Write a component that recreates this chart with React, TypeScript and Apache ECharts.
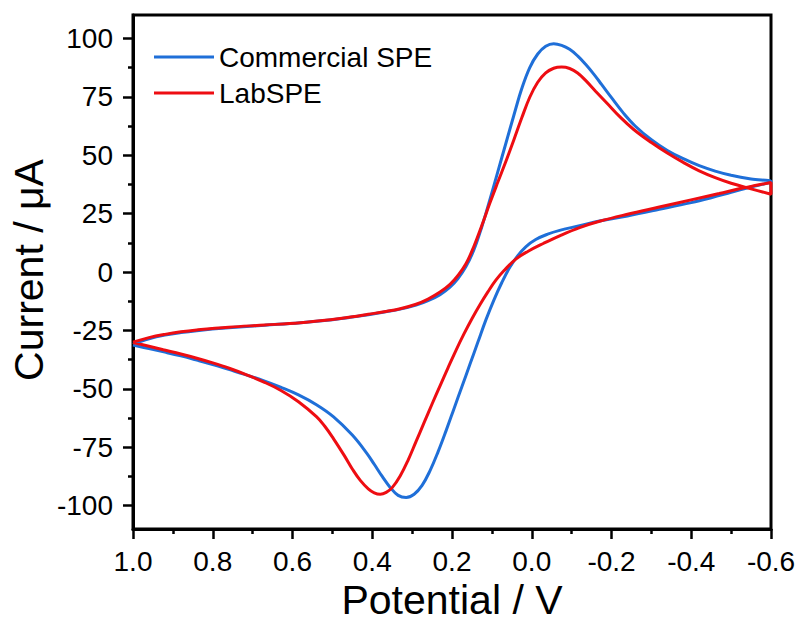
import React, { useEffect, useRef } from "react";
import * as echarts from "echarts";

// Commercial SPE: one full cycle, 1.0 V -> -0.6 V -> 1.0 V
const commercialPotential = [
  1.0, 0.96, 0.92, 0.88, 0.84, 0.76, 0.67, 0.58, 0.5, 0.45, 0.41, 0.37, 0.33, 0.29, 0.26, 0.23,
  0.205, 0.185, 0.165, 0.145, 0.125, 0.105, 0.085, 0.065, 0.045, 0.025, 0.005, -0.015, -0.035,
  -0.055, -0.075, -0.095, -0.115, -0.135, -0.155, -0.175, -0.2, -0.23, -0.26, -0.3, -0.34, -0.38,
  -0.42, -0.46, -0.5, -0.55, -0.6,
  -0.55, -0.5, -0.45, -0.4, -0.32, -0.24, -0.17, -0.12, -0.07, -0.04, -0.01, 0.015, 0.035, 0.055,
  0.075, 0.095, 0.115, 0.135, 0.155, 0.175, 0.195, 0.215, 0.235, 0.255, 0.275, 0.295, 0.315, 0.335,
  0.355, 0.375, 0.395, 0.414, 0.45, 0.497, 0.54, 0.585, 0.63, 0.673, 0.72, 0.76, 0.8, 0.84, 0.88,
  0.92, 0.96, 1.0,
];
const commercialCurrent = [
  -30.9, -28.6, -27.0, -25.9, -25.1, -23.9, -22.8, -21.7, -20.4, -19.3, -18.3, -17.1, -15.9, -14.2,
  -12.3, -9.7, -6.5, -2.8, 2.3, 9.5, 19.5, 31.0, 43.0, 55.0, 67.0, 78.5, 87.5, 93.3, 96.6, 97.7,
  97.0, 95.3, 92.5, 88.9, 84.8, 80.3, 74.6, 68.0, 62.4, 56.6, 52.0, 48.5, 45.5, 43.2, 41.4, 39.8,
  38.7,
  36.4, 34.1, 31.8, 29.7, 26.8, 24.0, 21.8, 19.8, 17.8, 16.2, 13.9, 10.8, 7.0, 2.0, -4.5, -12.0,
  -20.5, -30.0, -39.5, -49.0, -58.5, -68.0, -77.0, -85.0, -91.3, -95.1, -96.5, -95.6, -92.2, -87.5,
  -82.3, -77.5, -69.8, -62.0, -56.8, -52.6, -49.3, -46.5, -43.8, -41.7, -39.6, -37.7, -35.9, -34.3,
  -32.8, -31.3,
];

// LabSPE: one full cycle, 1.0 V -> -0.6 V -> 1.0 V
const labPotential = [
  1.0, 0.96, 0.92, 0.88, 0.84, 0.76, 0.67, 0.58, 0.5, 0.45, 0.41, 0.37, 0.33, 0.29, 0.26, 0.23,
  0.205, 0.185, 0.165, 0.145, 0.125, 0.105, 0.085, 0.065, 0.045, 0.025, 0.005, -0.015, -0.035,
  -0.055, -0.075, -0.095, -0.115, -0.135, -0.16, -0.19, -0.22, -0.255, -0.3, -0.34, -0.38, -0.42,
  -0.46, -0.5, -0.55, -0.6,
  -0.6, -0.56, -0.52, -0.47, -0.405, -0.32, -0.24, -0.17, -0.12, -0.07, -0.03, 0.01, 0.04, 0.07,
  0.09, 0.11, 0.13, 0.15, 0.17, 0.19, 0.21, 0.23, 0.25, 0.27, 0.29, 0.31, 0.33, 0.35, 0.365, 0.38,
  0.395, 0.41, 0.43, 0.45, 0.47, 0.497, 0.52, 0.54, 0.585, 0.63, 0.673, 0.715, 0.757, 0.8, 0.84,
  0.88, 0.924, 0.96, 1.0,
];
const labCurrent = [
  -30.0, -28.1, -26.7, -25.6, -24.8, -23.6, -22.7, -21.7, -20.3, -19.2, -18.1, -17.0, -15.7, -13.8,
  -11.6, -8.6, -5.3, -1.5, 3.5, 11.0, 20.0, 29.5, 38.5, 47.3, 56.5, 66.0, 74.8, 81.2, 85.2, 87.2,
  87.7, 87.1, 85.2, 82.0, 77.4, 72.0, 66.6, 61.1, 55.4, 50.9, 46.9, 43.3, 40.4, 38.0, 35.6, 33.3,
  38.3, 37.0, 35.6, 33.6, 31.1, 27.8, 24.7, 21.7, 19.0, 15.5, 12.3, 8.8, 5.5, 0.5, -3.5, -8.5,
  -14.0, -20.0, -26.5, -33.5, -41.0, -48.7, -56.5, -64.5, -72.5, -80.5, -87.3, -92.3, -94.3, -95.1,
  -94.5, -92.8, -89.2, -84.3, -78.6, -71.4, -65.8, -61.9, -55.5, -50.6, -47.0, -44.0, -41.3, -38.9,
  -36.9, -35.1, -33.3, -31.8, -30.2,
];

const seriesNames = ["Commercial SPE", "LabSPE"];
const seriesColors = ["#1f6fd8", "#ee0d12"];
const yMajorTicks = [-100, -75, -50, -25, 0, 25, 50, 75, 100];
const yMinorTicks = [-87.5, -62.5, -37.5, -12.5, 12.5, 37.5, 62.5, 87.5];

const FONT = '"Liberation Sans", Arial, sans-serif';

function pairs(xs: number[], ys: number[]) {
  return xs.map((x, i) => [x, ys[i]]);
}

export default function App() {
  const ref = useRef<HTMLDivElement>(null);
  useEffect(() => {
    if (!ref.current) return;
    const chart = echarts.init(ref.current, undefined, { renderer: "svg" });
    const tickStyle = { color: "#000", width: 2.5 };
    chart.setOption({
      animation: false,
      backgroundColor: "#fff",
      grid: {
        left: 133,
        top: 15,
        right: 28,
        bottom: 94,
        show: true,
        borderColor: "#000",
        borderWidth: 3,
        backgroundColor: "transparent",
      },
      legend: {
        orient: "vertical",
        left: 154,
        top: 43,
        padding: 0,
        itemGap: 8,
        itemWidth: 60,
        itemHeight: 3,
        icon: "rect",
        textStyle: { fontFamily: FONT, fontSize: 28, color: "#000" },
        data: seriesNames,
      },
      xAxis: {
        type: "value",
        min: -0.6,
        max: 1.0,
        interval: 0.2,
        inverse: true,
        axisLine: { show: true, onZero: false, lineStyle: { color: "#000", width: 3 } },
        axisTick: { show: true, inside: false, length: 10, lineStyle: tickStyle },
        minorTick: { show: true, splitNumber: 2, length: 5, lineStyle: tickStyle },
        splitLine: { show: false },
        minorSplitLine: { show: false },
        axisLabel: {
          margin: 18,
          fontFamily: FONT,
          fontSize: 28,
          color: "#000",
          formatter: (v: number) => (Math.abs(v) < 1e-9 ? "0.0" : v.toFixed(1)),
        },
      },
      yAxis: [
        {
          type: "value",
          min: -110,
          max: 110,
          position: "left",
          axisLine: { show: true, onZero: false, lineStyle: { color: "#000", width: 3 } },
          axisTick: { show: true, inside: false, length: 10, lineStyle: tickStyle, customValues: yMajorTicks },
          splitLine: { show: false },
          axisLabel: {
            margin: 20,
            fontFamily: FONT,
            fontSize: 28,
            color: "#000",
            customValues: yMajorTicks,
          },
        },
        {
          type: "value",
          min: -110,
          max: 110,
          position: "left",
          axisLine: { show: false, onZero: false },
          axisTick: { show: true, inside: false, length: 5, lineStyle: tickStyle, customValues: yMinorTicks },
          splitLine: { show: false },
          axisLabel: { show: false },
        },
      ],
      graphic: [
        {
          type: "text",
          x: 29,
          y: 270,
          rotation: Math.PI / 2,
          style: {
            text: "Current / μA",
            fontFamily: FONT,
            fontSize: 41,
            fill: "#000",
            align: "center",
            verticalAlign: "middle",
          },
        },
        {
          type: "text",
          x: 452,
          y: 600,
          style: {
            text: "Potential / V",
            fontFamily: FONT,
            fontSize: 41,
            fill: "#000",
            align: "center",
            verticalAlign: "middle",
          },
        },
      ],
      series: [
        {
          name: seriesNames[0],
          type: "line",
          data: pairs(commercialPotential, commercialCurrent),
          showSymbol: false,
          symbol: "none",
          smooth: 0.4,
          lineStyle: { color: seriesColors[0], width: 3 },
          itemStyle: { color: seriesColors[0] },
          z: 2,
        },
        {
          name: seriesNames[1],
          type: "line",
          data: pairs(labPotential, labCurrent),
          showSymbol: false,
          symbol: "none",
          smooth: 0.4,
          lineStyle: { color: seriesColors[1], width: 3 },
          itemStyle: { color: seriesColors[1] },
          z: 3,
        },
      ],
    });
    return () => chart.dispose();
  }, []);
  return (
    <div
      ref={ref}
      style={{ position: "absolute", left: 0, top: 0, width: 799, height: 623 }}
    />
  );
}
